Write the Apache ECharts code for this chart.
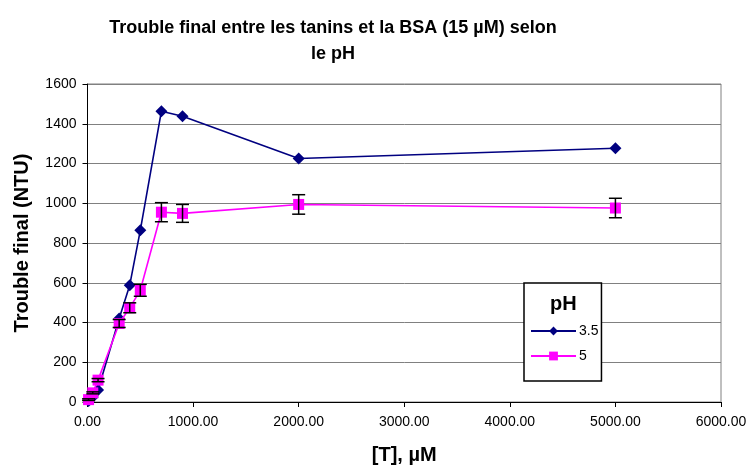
<!DOCTYPE html>
<html>
<head>
<meta charset="utf-8">
<script src="https://cdn.jsdelivr.net/npm/echarts@6/dist/echarts.min.js"></script>
<style>
  html, body { margin: 0; padding: 0; background: #fff; }
  #chart { width: 751px; height: 470px; }
</style>
</head>
<body>
<div id="chart"></div>
<script>
// Tannin concentration [T] (µM)
var concentrations = [10, 50, 100, 300, 400, 500, 700, 900, 2000, 5000];
// Final turbidity (NTU) at pH 3.5
var turbidityPH35 = [5, 25, 60, 420, 588, 864, 1463, 1438, 1225, 1277];
// Final turbidity (NTU) at pH 5
var turbidityPH5 = [12, 46, 110, 395, 474, 562, 955, 949, 994, 976];
// Standard deviation for the pH 5 series
var errorPH5 = [4, 5, 8, 20, 25, 30, 48, 45, 49, 49];

var seriesNames = ['3.5', '5'];
var FONT = 'Liberation Sans, Arial, sans-serif';

var chart = echarts.init(document.getElementById('chart'));

function pairs(xs, ys) {
  return xs.map(function (x, i) { return [x, ys[i]]; });
}

var errorData = concentrations.map(function (x, i) {
  return [x, turbidityPH5[i] - errorPH5[i], turbidityPH5[i] + errorPH5[i]];
});

chart.setOption({
  animation: false,
  backgroundColor: '#fff',
  title: {
    text: 'Trouble final entre les tanins et la BSA (15 µM) selon\nle pH',
    left: 328,
    textAlign: 'center',
    top: 10,
    textStyle: { fontFamily: FONT, fontSize: 18, fontWeight: 'bold', color: '#000', lineHeight: 26 }
  },
  grid: {
    left: 87.5, right: 30, top: 84, bottom: 64.3,
    show: true, borderColor: '#808080', borderWidth: 1, backgroundColor: '#fff'
  },
  legend: {
    data: seriesNames,
    orient: 'vertical',
    left: 524, top: 283,
    padding: [41, 3, 18, 6],
    itemWidth: 45, itemHeight: 11, itemGap: 11,
    backgroundColor: '#fff',
    borderColor: '#000', borderWidth: 1.5,
    textStyle: { fontFamily: FONT, fontSize: 14, color: '#000', padding: [0, 0, 0, -2] }
  },
  graphic: [{
    type: 'text',
    left: 550, top: 294,
    z: 100,
    style: { text: 'pH', font: 'bold 20px ' + FONT, fill: '#000' }
  }],
  xAxis: {
    type: 'value',
    min: 0, max: 6000, interval: 1000,
    name: '[T], µM',
    nameLocation: 'middle', nameGap: 43,
    nameTextStyle: { fontFamily: FONT, fontSize: 20, fontWeight: 'bold', color: '#000' },
    axisLine: { show: true, lineStyle: { color: '#000', width: 1 } },
    axisTick: { show: true, length: 5, lineStyle: { color: '#000' } },
    axisLabel: {
      fontFamily: FONT, fontSize: 14, color: '#000', margin: 13,
      formatter: function (v) { return v.toFixed(2); }
    },
    splitLine: { show: false }
  },
  yAxis: {
    type: 'value',
    min: 0, max: 1600, interval: 200,
    name: 'Trouble final (NTU)',
    nameLocation: 'middle', nameGap: 55,
    nameTextStyle: { fontFamily: FONT, fontSize: 20, fontWeight: 'bold', color: '#000' },
    axisLine: { show: true, lineStyle: { color: '#000', width: 1 } },
    axisTick: { show: true, length: 5, lineStyle: { color: '#000' } },
    axisLabel: {
      fontFamily: FONT, fontSize: 14, color: '#000', margin: 11,
      formatter: function (v) { return String(v); }
    },
    splitLine: { show: true, lineStyle: { color: '#808080', width: 1 } }
  },
  series: [
    {
      name: '3.5',
      type: 'line',
      data: pairs(concentrations, turbidityPH35),
      symbol: 'diamond', symbolSize: 12,
      clip: false,
      lineStyle: { color: '#000080', width: 1.6 },
      itemStyle: { color: '#000080' },
      z: 3
    },
    {
      name: '5',
      type: 'line',
      data: pairs(concentrations, turbidityPH5),
      symbol: 'rect', symbolSize: 11,
      clip: false,
      lineStyle: { color: '#FF00FF', width: 1.6 },
      itemStyle: { color: '#FF00FF' },
      z: 4
    },
    {
      name: 'erreur',
      type: 'custom',
      data: errorData,
      z: 5,
      renderItem: function (params, api) {
        var x = api.value(0);
        var lo = api.coord([x, api.value(1)]);
        var hi = api.coord([x, api.value(2)]);
        var half = 6.5;
        var style = { stroke: '#000', lineWidth: 1.5 };
        return {
          type: 'group',
          children: [
            { type: 'line', shape: { x1: hi[0], y1: hi[1], x2: lo[0], y2: lo[1] }, style: style },
            { type: 'line', shape: { x1: hi[0] - half, y1: hi[1], x2: hi[0] + half, y2: hi[1] }, style: style },
            { type: 'line', shape: { x1: lo[0] - half, y1: lo[1], x2: lo[0] + half, y2: lo[1] }, style: style }
          ]
        };
      }
    }
  ]
});
</script>
</body>
</html>
